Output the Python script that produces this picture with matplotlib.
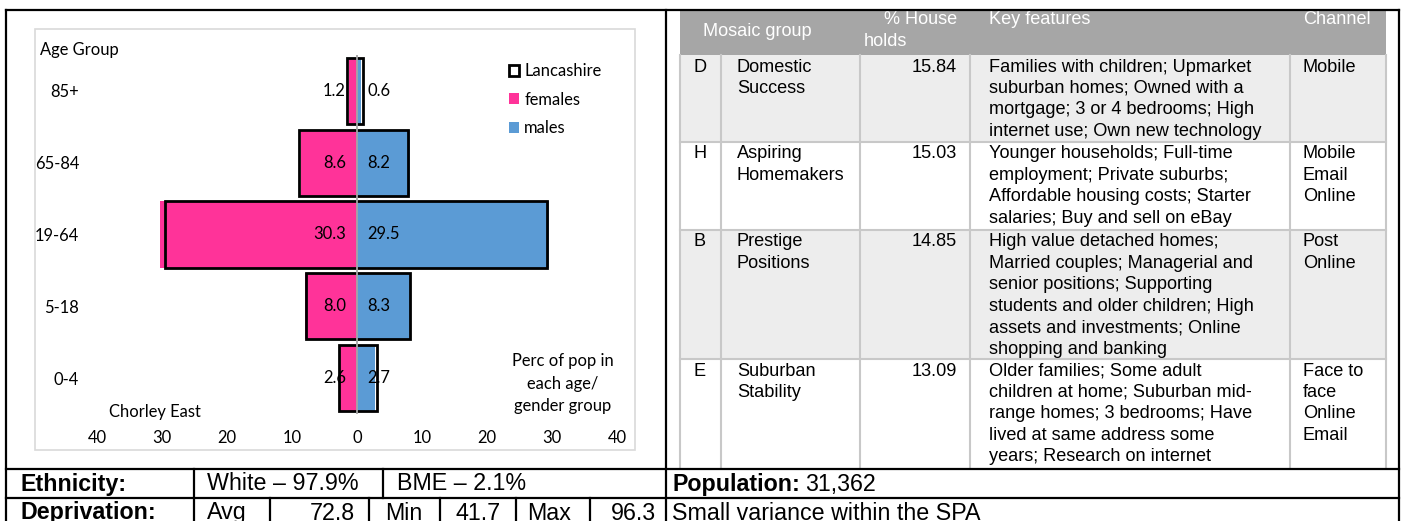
import matplotlib
matplotlib.use("Agg")
import matplotlib.pyplot as plt
from matplotlib.patches import Rectangle
from matplotlib.ticker import FuncFormatter, FixedLocator

# ---- population pyramid data (percent of population) ----
age_groups = ["0-4", "5-18", "19-64", "65-84", "85+"]
females = [2.6, 8.0, 30.3, 8.6, 1.2]
males = [2.7, 8.3, 29.5, 8.2, 0.6]
lancs_females = [2.8, 7.9, 29.5, 8.9, 1.6]
lancs_males = [3.0, 8.2, 29.3, 7.8, 0.9]
x_ticks = [-40, -30, -20, -10, 0, 10, 20, 30, 40]
area_name = "Chorley East"

# ---- Mosaic groups table ----
mosaic_codes = ["D", "H", "B", "E"]
mosaic_names = [["Domestic", "Success"], ["Aspiring", "Homemakers"],
                ["Prestige", "Positions"], ["Suburban", "Stability"]]
households_pct = ["15.84", "15.03", "14.85", "13.09"]
key_features = [
    ["Families with children; Upmarket", "suburban homes; Owned with a",
     "mortgage; 3 or 4 bedrooms; High", "internet use; Own new technology"],
    ["Younger households; Full-time", "employment; Private suburbs;",
     "Affordable housing costs; Starter", "salaries; Buy and sell on eBay"],
    ["High value detached homes;", "Married couples; Managerial and",
     "senior positions; Supporting", "students and older children; High",
     "assets and investments; Online", "shopping and banking"],
    ["Older families; Some adult", "children at home; Suburban mid-",
     "range homes; 3 bedrooms; Have", "lived at same address some",
     "years; Research on internet"],
]
channels = [["Mobile"], ["Mobile", "Email", "Online"], ["Post", "Online"],
            ["Face to", "face", "Online", "Email"]]

# ---- summary rows ----
ethnicity = ["White \u2013 97.9%", "BME \u2013 2.1%"]
deprivation_labels = ["Avg", "Min", "Max"]
deprivation_values = ["72.8", "41.7", "96.3"]
population = "31,362"
deprivation_note = "Small variance within the SPA"

W, H = 1405, 521
fig = plt.figure(figsize=(W / 100, H / 100), dpi=100)

# overlay axes in pixel units for the document frame and table
ax0 = fig.add_axes([0, 0, 1, 1], zorder=0)
ax0.set_xlim(0, W)
ax0.set_ylim(H, 0)
ax0.axis("off")

def px(p):
    return p * 0.72  # pixel size -> points at 100 dpi

CHART_FONT = ["Lato", "DejaVu Sans"]
TABLE_FONT = ["Liberation Sans", "DejaVu Sans"]
chart_fs = px(16.5)
table_fs = px(18.2)
row_fs = px(23.3)

# chart area frame
ax0.add_patch(Rectangle((35, 29), 600, 421, facecolor="white",
                        edgecolor="#D9D9D9", lw=1.2, zorder=1))

# ---- pyramid chart ----
L, R, T, B = 97, 617, 55, 414
ax = fig.add_axes([L / W, 1 - B / H, (R - L) / W, (B - T) / H], zorder=2)
ax.patch.set_alpha(0)
ypos = list(range(len(age_groups)))
bh = 0.92
fem_bars = ax.barh(ypos, [-v for v in females], height=bh, color="#FF3399",
                   label="females", zorder=2)
male_bars = ax.barh(ypos, males, height=bh, color="#5B9BD5", label="males",
                    zorder=2)
lancs_bars = ax.barh(ypos, [f + m for f, m in zip(lancs_females, lancs_males)],
                     left=[-f for f in lancs_females], height=bh, fill=False,
                     edgecolor="black", lw=2.0, label="Lancashire", zorder=3)
ax.axvline(0, color="#A6A6A6", lw=1.3, zorder=4)
ax.set_xlim(-40, 40)
ax.set_ylim(-0.5, len(age_groups) - 0.5)
ax.xaxis.set_major_locator(FixedLocator(x_ticks))
ax.xaxis.set_major_formatter(FuncFormatter(lambda v, p: f"{abs(v):.0f}"))
ax.set_yticks(ypos)
ax.set_yticklabels(age_groups)
ax.tick_params(axis="both", length=0, labelsize=chart_fs, colors="#000000")
ax.tick_params(axis="x", pad=px(16))
ax.tick_params(axis="y", pad=px(18))
for lab in ax.get_xticklabels() + ax.get_yticklabels():
    lab.set_family(CHART_FONT)
for s in ax.spines.values():
    s.set_visible(False)

for y, f, m in zip(ypos, females, males):
    ax.annotate(f"{f:.1f}", (0, y), xytext=(-px(11), 0), textcoords="offset points",
                ha="right", va="center", fontsize=chart_fs, family=CHART_FONT,
                zorder=5)
    ax.annotate(f"{m:.1f}", (0, y), xytext=(px(10), 0), textcoords="offset points",
                ha="left", va="center", fontsize=chart_fs, family=CHART_FONT,
                zorder=5)

leg = ax.legend(handles=[lancs_bars, fem_bars, male_bars], loc="upper left",
                bbox_to_anchor=(509 / W, 1 - 63 / H), bbox_transform=fig.transFigure,
                frameon=False, prop={"family": CHART_FONT, "size": chart_fs},
                handlelength=0.62, handleheight=0.62, handletextpad=0.3,
                labelspacing=0.76, borderpad=0, borderaxespad=0)

ax0.text(40, 50, "Age Group", fontsize=chart_fs, family=CHART_FONT,
         ha="left", va="center", zorder=3)
ax0.text(155, 412, area_name, fontsize=chart_fs, family=CHART_FONT,
         ha="center", va="center", zorder=3)
for i, line in enumerate(["Perc of pop in", "each age/", "gender group"]):
    ax0.text(563, 361 + 22.5 * i, line, fontsize=chart_fs, family=CHART_FONT,
             ha="center", va="center", zorder=3)

# ---- mosaic table ----
tx0, tx1 = 680, 1386
col_lines = [721, 860, 970, 1290]
head_top, head_bot = 10, 55
row_tops = [55, 142, 230, 359]
table_bot = 468
grid = "#C8C8C8"

ax0.add_patch(Rectangle((tx0, head_top), tx1 - tx0, head_bot - head_top,
                        facecolor="#A6A6A6", edgecolor="none", zorder=1))
bounds = row_tops + [table_bot]
for i in range(len(row_tops)):
    fc = "#EDEDED" if i % 2 == 0 else "white"
    ax0.add_patch(Rectangle((tx0, bounds[i]), tx1 - tx0, bounds[i + 1] - bounds[i],
                            facecolor=fc, edgecolor="none", zorder=1))
for yb in bounds[1:-1]:
    ax0.plot([tx0, tx1], [yb, yb], color=grid, lw=1.5, zorder=2)
for xc in [tx0] + col_lines + [tx1]:
    ax0.plot([xc, xc], [head_bot, table_bot], color=grid, lw=1.5, zorder=2)

hdr = dict(fontsize=table_fs, family=TABLE_FONT, color="white", va="center", zorder=3)
ax0.text(757, 31, "Mosaic group", ha="center", **hdr)
ax0.text(957, 19, "% House", ha="right", **hdr)
ax0.text(864, 42, "holds", ha="left", **hdr)
ax0.text(989, 19, "Key features", ha="left", **hdr)
ax0.text(1303, 19, "Channel", ha="left", **hdr)

cell = dict(fontsize=table_fs, family=TABLE_FONT, color="black", va="center", zorder=3)
lh = 21.4
for i, top in enumerate(row_tops):
    y0 = top + 12
    ax0.text(700, y0, mosaic_codes[i], ha="center", **cell)
    for k, t in enumerate(mosaic_names[i]):
        ax0.text(737, y0 + k * lh, t, ha="left", **cell)
    ax0.text(957, y0, households_pct[i], ha="right", **cell)
    for k, t in enumerate(key_features[i]):
        ax0.text(989, y0 + k * lh, t, ha="left", **cell)
    for k, t in enumerate(channels[i]):
        ax0.text(1303, y0 + k * lh, t, ha="left", **cell)

# ---- document frame lines ----
blk = dict(color="black", lw=1.6, zorder=4, solid_capstyle="projecting")
ax0.plot([6, 1399], [9.5, 9.5], **blk)
ax0.plot([6, 6], [9.5, H + 5], **blk)
ax0.plot([1399, 1399], [9.5, H + 5], **blk)
ax0.plot([666, 666], [9.5, H + 5], **blk)
ax0.plot([6, 1399], [469, 469], **blk)
ax0.plot([6, 1399], [498, 498], **blk)
ax0.plot([194, 194], [469, H + 5], **blk)
ax0.plot([383, 383], [469, 498], **blk)
for xc in [270, 369, 440, 516, 590]:
    ax0.plot([xc, xc], [498, H + 5], **blk)

# ---- summary rows (the last row continues below the page edge) ----
bold = dict(fontsize=row_fs, family=TABLE_FONT, weight="bold", va="center", zorder=5)
reg = dict(fontsize=row_fs, family=TABLE_FONT, va="center", zorder=5)
ax0.text(20, 484, "Ethnicity:", ha="left", **bold)
ax0.text(207, 484, ethnicity[0], ha="left", **reg)
ax0.text(397, 484, ethnicity[1], ha="left", **reg)
ax0.text(20, 513, "Deprivation:", ha="left", **bold)
lab_x = [207, 385, 527]
val_x = [355, 501, 656]
for lx, vx, l, v in zip(lab_x, val_x, deprivation_labels, deprivation_values):
    ax0.text(lx, 513, l, ha="left", **reg)
    ax0.text(vx, 513, v, ha="right", **reg)

pop_lab = ax0.text(672, 484, "Population:", ha="left", **bold)
fig.canvas.draw()
bb = pop_lab.get_window_extent()
ax0.text(bb.x1 + 5, 484, population, ha="left", **reg)
ax0.text(672, 513, deprivation_note, ha="left", **reg)

fig.savefig("out.png", dpi=100)
